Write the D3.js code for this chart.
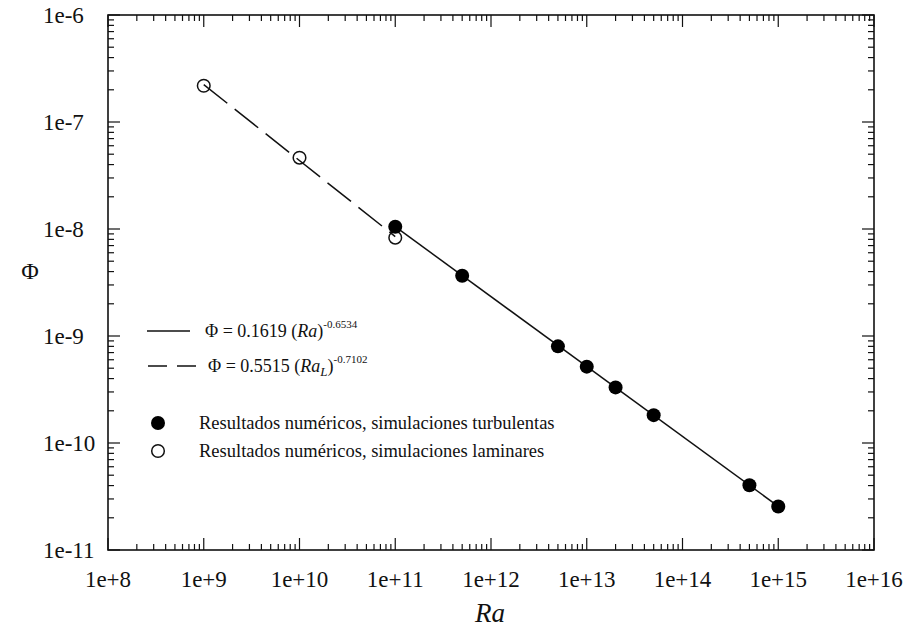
<!DOCTYPE html>
<html>
<head>
<meta charset="utf-8">
<script src="https://cdn.jsdelivr.net/npm/d3@7"></script>
<style>
  html, body { margin: 0; padding: 0; background: #fff; }
  svg { display: block; }
</style>
</head>
<body>
<svg id="chart" width="909" height="641"></svg>
<script>
// Rayleigh numbers and Φ values, turbulent simulations
const turbRa  = [1e11, 5e11, 5e12, 1e13, 2e13, 5e13, 5e14, 1e15];
const turbPhi = [1.05e-8, 3.66e-9, 8.0e-10, 5.17e-10, 3.31e-10, 1.82e-10, 4.03e-11, 2.55e-11];

// Laminar simulations
const lamRa  = [1e9, 1e10, 1e11];
const lamPhi = [2.18e-7, 4.64e-8, 8.3e-9];

// Power-law fits Φ = a · Ra^b and the Ra range each one covers
const fitTurb = { a: 0.1619, b: -0.6534, from: 1e11, to: 1e15 };
const fitLam  = { a: 0.5515, b: -0.7102, from: 1e9,  to: 1e11 };

// Axis ticks
const xMajor = [1e8, 1e9, 1e10, 1e11, 1e12, 1e13, 1e14, 1e15, 1e16];
const xLabels = ["1e+8", "1e+9", "1e+10", "1e+11", "1e+12", "1e+13", "1e+14", "1e+15", "1e+16"];
const yMajor = [1e-11, 1e-10, 1e-9, 1e-8, 1e-7, 1e-6];
const yLabels = ["1e-11", "1e-10", "1e-9", "1e-8", "1e-7", "1e-6"];
const minorMult = [2, 3, 4, 5, 6, 7, 8, 9];

const FONT = "'Liberation Serif', 'DejaVu Serif', 'Times New Roman', serif";
const svg = d3.select("#chart").attr("font-family", FONT).style("font-family", FONT);
const L = 108, R = 874, T = 15, B = 550;

const x = d3.scaleLog().domain([1e8, 1e16]).range([L, R]);
const y = d3.scaleLog().domain([1e-11, 1e-6]).range([B, T]);

const xMinor = [];
xMajor.slice(0, -1).forEach(d => minorMult.forEach(m => xMinor.push(d * m)));
const yMinor = [];
yMajor.slice(0, -1).forEach(d => minorMult.forEach(m => yMinor.push(d * m)));

const MAJ = 12, MIN = 6;
const ticks = svg.append("g").attr("stroke", "#111").attr("stroke-width", 1.2);

// x ticks on bottom and top, pointing inward
[[xMajor, MAJ], [xMinor, MIN]].forEach(([vals, len]) => {
  vals.forEach(v => {
    ticks.append("line").attr("x1", x(v)).attr("x2", x(v)).attr("y1", B).attr("y2", B - len);
    ticks.append("line").attr("x1", x(v)).attr("x2", x(v)).attr("y1", T).attr("y2", T + len);
  });
});
// y ticks on left and right, pointing inward
[[yMajor, MAJ], [yMinor, MIN]].forEach(([vals, len]) => {
  vals.forEach(v => {
    ticks.append("line").attr("y1", y(v)).attr("y2", y(v)).attr("x1", L).attr("x2", L + len);
    ticks.append("line").attr("y1", y(v)).attr("y2", y(v)).attr("x1", R).attr("x2", R - len);
  });
});

// Frame
svg.append("rect").attr("x", L).attr("y", T).attr("width", R - L).attr("height", B - T)
  .attr("fill", "none").attr("stroke", "#111").attr("stroke-width", 1.6);

const txt = sel => sel.attr("font-family", FONT).attr("fill", "#111");

// Tick labels
svg.append("g").call(txt).selectAll("text").data(xMajor).join("text")
  .attr("x", d => x(d)).attr("y", 587)
  .attr("text-anchor", "middle").attr("font-size", 23)
  .text((d, i) => xLabels[i]);

svg.append("g").call(txt).selectAll("text").data(yMajor).join("text")
  .attr("x", 43).attr("y", d => y(d)).attr("dy", "0.35em")
  .attr("text-anchor", "start").attr("font-size", 23)
  .text((d, i) => yLabels[i]);

// Axis titles
svg.append("text").call(txt).attr("x", 490).attr("y", 622).attr("text-anchor", "middle")
  .attr("font-size", 27).attr("font-style", "italic").text("Ra");
svg.append("text").call(txt).attr("x", 30).attr("y", 271).attr("dy", "0.35em").attr("text-anchor", "middle")
  .attr("font-size", 24).text("Φ");

// Fit lines
const fitPts = f => [f.from, f.to].map(r => [r, f.a * Math.pow(r, f.b)]);
const line = d3.line().x(d => x(d[0])).y(d => y(d[1]));

svg.append("path").datum(fitTurb).attr("d", f => line(fitPts(f)))
  .attr("fill", "none").attr("stroke", "#111").attr("stroke-width", 1.5);
svg.append("path").datum(fitLam).attr("d", f => line(fitPts(f)))
  .attr("fill", "none").attr("stroke", "#111").attr("stroke-width", 1.5)
  .attr("stroke-dasharray", "30,9.5");

// Markers
svg.append("g").selectAll("circle").data(lamRa).join("circle")
  .attr("cx", d => x(d)).attr("cy", (d, i) => y(lamPhi[i])).attr("r", 6.3)
  .attr("fill", "none").attr("stroke", "#111").attr("stroke-width", 1.5);
svg.append("g").selectAll("circle").data(turbRa).join("circle")
  .attr("cx", d => x(d)).attr("cy", (d, i) => y(turbPhi[i])).attr("r", 7)
  .attr("fill", "#000");

// Legend
const lg = svg.append("g").call(txt);
lg.append("line").attr("x1", 147).attr("x2", 190).attr("y1", 331).attr("y2", 331)
  .attr("stroke", "#111").attr("stroke-width", 1.3);
lg.append("line").attr("x1", 148).attr("x2", 196).attr("y1", 366).attr("y2", 366)
  .attr("stroke", "#111").attr("stroke-width", 1.3).attr("stroke-dasharray", "19,10");

const t1 = lg.append("text").call(txt).attr("x", 205).attr("y", 337).attr("font-size", 18);
t1.append("tspan").text("Φ = " + fitTurb.a + " (");
t1.append("tspan").attr("font-style", "italic").text("Ra");
t1.append("tspan").text(")");
t1.append("tspan").attr("font-size", 11).attr("dy", -9).text(String(fitTurb.b));

const t2 = lg.append("text").call(txt).attr("x", 208).attr("y", 372).attr("font-size", 18);
t2.append("tspan").text("Φ = " + fitLam.a + " (");
t2.append("tspan").attr("font-style", "italic").text("Ra");
t2.append("tspan").attr("font-style", "italic").attr("font-size", 13).attr("dy", 4).text("L");
t2.append("tspan").attr("dy", -4).text(")");
t2.append("tspan").attr("font-size", 11).attr("dy", -9).text(String(fitLam.b));

lg.append("circle").attr("cx", 158).attr("cy", 423).attr("r", 7).attr("fill", "#000");
lg.append("circle").attr("cx", 158).attr("cy", 451).attr("r", 6.3)
  .attr("fill", "none").attr("stroke", "#111").attr("stroke-width", 1.5);
lg.append("text").call(txt).attr("x", 199).attr("y", 423).attr("dy", "0.35em").attr("font-size", 18.5)
  .text("Resultados numéricos, simulaciones turbulentas");
lg.append("text").call(txt).attr("x", 199).attr("y", 451).attr("dy", "0.35em").attr("font-size", 18.5)
  .text("Resultados numéricos, simulaciones laminares");
</script>
</body>
</html>
